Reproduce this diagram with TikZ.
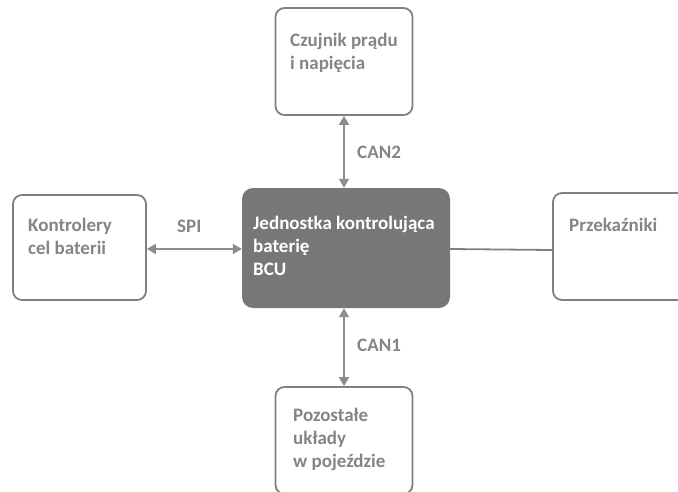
\documentclass[tikz,border=0pt]{standalone}
\usepackage{fontspec}
\setmainfont{Carlito}
\usepackage{tikz}
\usetikzlibrary{positioning,arrows.meta}
\definecolor{boxgray}{HTML}{808080}
\definecolor{bcugray}{HTML}{777777}
\definecolor{txtgray}{HTML}{858585}
\definecolor{arrgray}{HTML}{8C8C8C}

\begin{document}
\begin{tikzpicture}[x=1pt,y=-1pt,
    unit/.style={rectangle,draw=boxgray,line width=1.8pt,rounded corners=9pt,
                 minimum width=137pt,minimum height=107pt,fill=white},
    core/.style={rectangle,fill=bcugray,rounded corners=11pt,
                 minimum width=208pt,minimum height=120pt},
    txt/.style={anchor=base west,inner sep=0pt,align=left,text=txtgray,
                font=\fontsize{19}{23}\selectfont\bfseries},
    wtxt/.style={txt,text=white},
    link/.style={{Triangle[length=9pt,width=10pt]}-{Triangle[length=9pt,width=10pt]},
                 line width=1.8pt,draw=arrgray},
    plain/.style={line width=1.8pt,draw=boxgray}
]
\useasboundingbox (0,0) rectangle (678,491);
\clip (0,0) rectangle (678,491);

\node[core] (bcu)    at (346,248)   {};
\node[unit] (sensor) at (344,61.5)  {};
\node[unit,minimum width=133pt,minimum height=105pt] (cells) at (79.5,247.5) {};
\node[unit] (relays) at (621.5,246.5) {};
\node[unit] (others) at (344,440.5) {};

\node[wtxt] (bcutxt)    at (253,275) {Jednostka kontrolująca\\baterię\\BCU};
\node[txt]  (sensortxt) at (290,69)  {Czujnik prądu\\i napięcia};
\node[txt]  (cellstxt)  at (28,254)  {Kontrolery\\cel baterii};
\node[txt]  (relaystxt) at (569,231) {Przekaźniki};
\node[txt]  (otherstxt) at (293,467) {Pozostałe\\układy\\w pojeździe};

\draw[link] (sensor.south) -- (sensor.south |- bcu.north);
\node[txt] (can2) at (357,158) {CAN2};
\draw[link] (others.north) -- (others.north |- bcu.south);
\node[txt] (can1) at (357,351) {CAN1};
\draw[link] (cells.east |- 0,249) -- (bcu.west |- 0,249);
\node[txt] (spi) at (177,232) {SPI};
\draw[plain] (bcu.east |- 0,249) -- (relays.west |- 0,250);
\end{tikzpicture}
\end{document}
